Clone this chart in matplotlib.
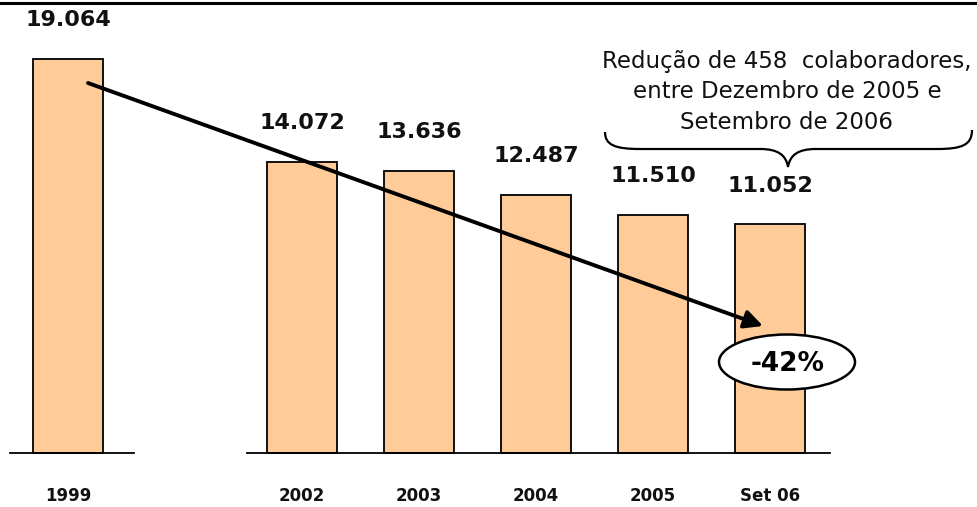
import matplotlib
matplotlib.use("Agg")
import matplotlib.pyplot as plt
from matplotlib.path import Path
from matplotlib.patches import PathPatch, Ellipse
from matplotlib.lines import Line2D
import matplotlib.transforms as mtrans

categories = ["1999", "2002", "2003", "2004", "2005", "Set 06"]
slots = [0, 2, 3, 4, 5, 6]
values = [19064, 14072, 13636, 12487, 11510, 11052]
note_text = "Redução de 458  colaboradores,\nentre Dezembro de 2005 e\nSetembro de 2006"
change_text = "-42%"

W, H = 977, 507
fig = plt.figure(figsize=(W / 100, H / 100), dpi=100)
ax = fig.add_axes([0, 0, 1, 1])
ax.set_axis_off()

# pixel mapping: slot p -> 68 + 117 p ; value 0 -> 452.7 px, 0.02065 px/unit
xpx0, xstep = 68.0, 117.0
ybase, yscale = 452.7, 0.02065
ax.set_xlim(-xpx0 / xstep, (W - xpx0) / xstep)
ax.set_ylim(-(H - ybase) / yscale, ybase / yscale)

ax.bar(slots, values, width=0.6, color="#FFCC99", edgecolor="black",
       linewidth=1.3, zorder=2)

# baseline segments
ax.plot([-0.5, 0.56], [0, 0], color="black", lw=1.3, zorder=3)
ax.plot([1.53, 6.51], [0, 0], color="black", lw=1.3, zorder=3)

for s, v in zip(slots, values):
    ax.annotate(f"{v:,}".replace(",", "."), (s, v), xytext=(0, 28),
                textcoords="offset points", ha="center", va="center",
                fontsize=16, fontweight="bold", color="#111111", zorder=5)

cat_tr = ax.transData + mtrans.ScaledTranslation(0, -43 / 100, fig.dpi_scale_trans)
for s, c in zip(slots, categories):
    ax.text(s, 0, c, transform=cat_tr, ha="center", va="center",
            fontsize=12, fontweight="bold", color="#111111")


def P(x, y):
    return (x / W, 1 - y / H)


# top rule
fig.add_artist(Line2D([0, 1], [1 - 3 / H, 1 - 3 / H], color="black", lw=2.2))

# trend arrow
ax.annotate("", xy=P(763, 326), xytext=P(88, 83), xycoords="axes fraction",
            textcoords="axes fraction",
            arrowprops=dict(arrowstyle="-|>,head_length=1.1,head_width=0.55",
                            lw=2.8, color="black", shrinkA=0, shrinkB=0),
            zorder=6)

# ellipse with percentage
ax.add_patch(Ellipse(P(787, 362), 136 / W, 55 / H, transform=ax.transAxes,
                     facecolor="white", edgecolor="black", lw=1.8, zorder=7))
ax.text(*P(788, 364), change_text, transform=ax.transAxes, ha="center",
        va="center", fontsize=19, fontweight="bold", zorder=8)

# note text
ax.text(*P(787, 92), note_text, transform=ax.transAxes, ha="center",
        va="center", fontsize=16.5, linespacing=1.4, color="#111111")

# brace
verts = [P(605, 132), P(605, 145), P(615, 149), P(640, 149),
         P(760, 149),
         P(778, 149), P(786, 155), P(788, 167),
         P(790, 155), P(798, 149), P(816, 149),
         P(937, 149),
         P(962, 149), P(972, 145), P(972, 130)]
codes = [Path.MOVETO, Path.CURVE4, Path.CURVE4, Path.CURVE4,
         Path.LINETO,
         Path.CURVE4, Path.CURVE4, Path.CURVE4,
         Path.CURVE4, Path.CURVE4, Path.CURVE4,
         Path.LINETO,
         Path.CURVE4, Path.CURVE4, Path.CURVE4]
ax.add_patch(PathPatch(Path(verts, codes), transform=ax.transAxes,
                       facecolor="none", edgecolor="black", lw=1.6))

fig.savefig("out.png", dpi=100)
